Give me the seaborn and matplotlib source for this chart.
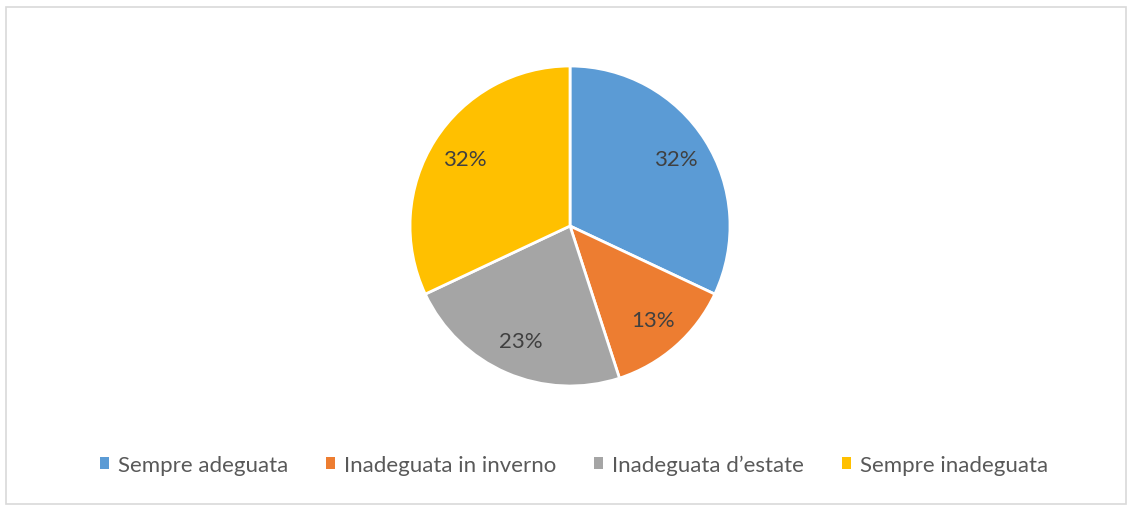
import matplotlib
matplotlib.use('Agg')
import matplotlib.pyplot as plt
import seaborn as sns
from matplotlib.patches import Patch, Rectangle

# dati
categorie = ['Sempre adeguata', 'Inadeguata in inverno', "Inadeguata d\u2019estate", 'Sempre inadeguata']
valori = [32, 13, 23, 32]
colori = sns.color_palette(['#5B9BD5', '#ED7D31', '#A5A5A5', '#FFC000'])

sns.set_theme(style='white')
plt.rcParams['font.family'] = ['Lato', 'DejaVu Sans']

fig = plt.figure(figsize=(11.32, 5.06), dpi=100)

# bordo esterno del grafico
fig.patches.append(Rectangle((6 / 1132, 1 - 505 / 506), 1120 / 1132, 497 / 506,
                             transform=fig.transFigure, fill=False,
                             edgecolor='#D9D9D9', linewidth=1.2))

ax = fig.add_axes([0.3622, 0.2352, 0.2827, 0.6324])
wedges, testi, autotesti = ax.pie(
    valori, colors=colori, startangle=90, counterclock=False,
    autopct='%1.0f%%', pctdistance=0.78, radius=1,
    wedgeprops=dict(edgecolor='white', linewidth=2),
    textprops=dict(color='#404040', fontsize=16))
ax.set_xlim(-1.0, 1.0)
ax.set_ylim(-1.0, 1.0)
ax.set_aspect('equal')
ax.axis('off')

maniglie = [Patch(facecolor=c, edgecolor='none') for c in colori]
leg = fig.legend(maniglie, categorie, loc='center', bbox_to_anchor=(0.507, 1 - 466 / 506),
                 ncol=4, frameon=False, fontsize=16, handlelength=0.42, handleheight=0.42,
                 handletextpad=0.4, columnspacing=1.7)
for t in leg.get_texts():
    t.set_color('#595959')

fig.savefig('out.png', dpi=100)
